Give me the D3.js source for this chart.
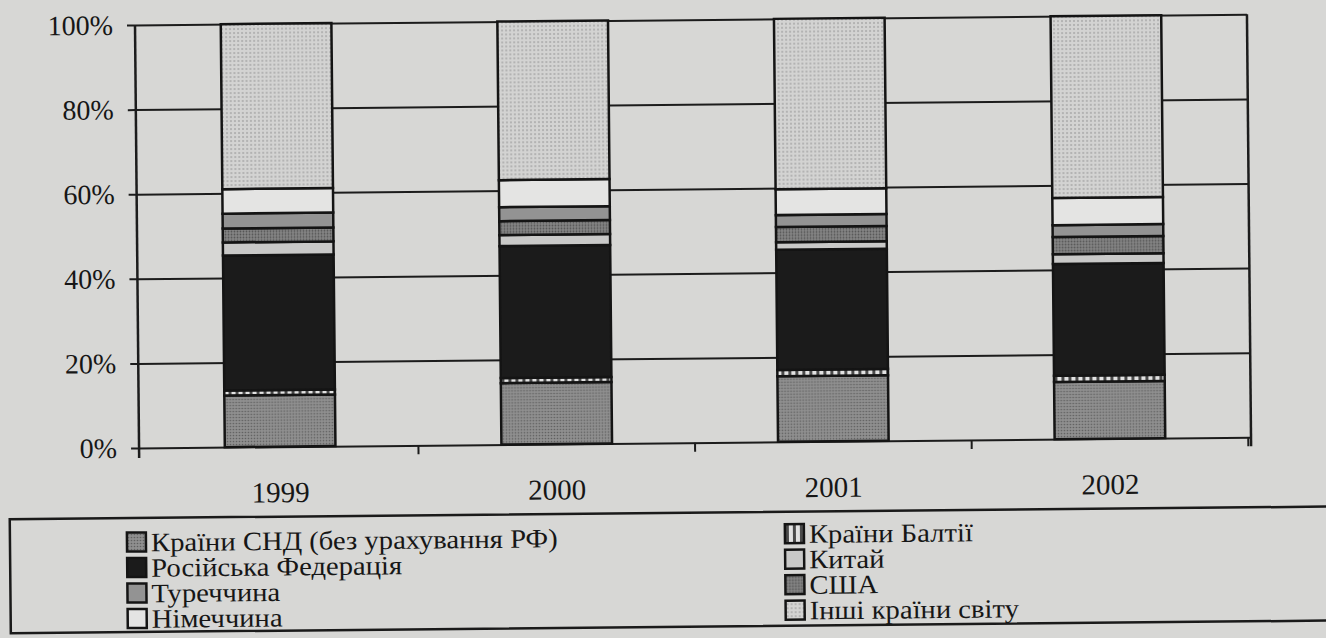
<!DOCTYPE html>
<html>
<head>
<meta charset="utf-8">
<script src="https://cdn.jsdelivr.net/npm/d3@7"></script>
<style>
  body { margin: 0; background: #d7d7d5; }
  svg { display: block; }
  text { font-family: "Liberation Serif", "Times New Roman", serif; fill: #161616; }
</style>
</head>
<body>
<svg id="chart" width="1326" height="638"></svg>
<script>
// years on the x axis
const years = ["1999", "2000", "2001", "2002"];
// shares in %, stacked bottom -> top
const cis     = [12.2, 14.5, 15.5, 13.5];
const baltic  = [1.2, 1.2, 1.5, 1.5];
const russia  = [31.9, 31.2, 28.4, 26.4];
const china   = [3.1, 2.6, 1.8, 2.3];
const usa     = [3.3, 3.3, 3.6, 4.1];
const turkey  = [3.5, 3.3, 2.8, 2.8];
const germany = [5.8, 6.4, 6.1, 6.4];
const others  = [39.0, 37.5, 40.3, 43.0];
const yTicks = [0, 20, 40, 60, 80, 100];

const stackKeys = ["cis", "baltic", "russia", "china", "usa", "turkey", "germany", "others"];
const seriesVals = { cis, baltic, russia, china, usa, turkey, germany, others };
const names = {
    cis: "Країни СНД (без урахування РФ)",
    russia: "Російська Федерація",
    turkey: "Туреччина",
    germany: "Німеччина",
    baltic: "Країни Балтії",
    china: "Китай",
    usa: "США",
    others: "Інші країни світу"
};
const legendLeft = ["cis", "russia", "turkey", "germany"];
const legendRight = ["baltic", "china", "usa", "others"];

var svg = d3.select("#chart");
var plotL = 135, plotR = 1247, plotT = 25, plotB = 448;
var serif = '"Liberation Serif", "Times New Roman", serif';

// scan is slightly tilted
var g = svg.append("g").attr("transform", "rotate(-0.55," + plotL + "," + plotT + ")");

// fill patterns
var defs = svg.append("defs");
function dots(id, bg, dot, step, r) {
    var p = defs.append("pattern").attr("id", id).attr("patternUnits", "userSpaceOnUse")
        .attr("width", step).attr("height", step);
    p.append("rect").attr("width", step).attr("height", step).attr("fill", bg);
    p.append("circle").attr("cx", step / 2).attr("cy", step / 2).attr("r", r).attr("fill", dot);
}
dots("pCis", "#8f8f8f", "#5e5e5e", 3, 0.8);
dots("pUsa", "#858585", "#555", 3, 0.9);
dots("pOthers", "#d3d3d2", "#7c7c7c", 4, 0.7);
var pb = defs.append("pattern").attr("id", "pBaltic").attr("patternUnits", "userSpaceOnUse")
    .attr("width", 7).attr("height", 7);
pb.append("rect").attr("width", 7).attr("height", 7).attr("fill", "#e2e2e2");
pb.append("rect").attr("x", 1).attr("width", 3).attr("height", 7).attr("fill", "#4a4a4a");

var fills = {
    cis: "url(#pCis)", baltic: "url(#pBaltic)", russia: "#1b1b1b", china: "#c9c9c8",
    usa: "url(#pUsa)", turkey: "#939393", germany: "#e4e4e3", others: "url(#pOthers)"
};

var x = d3.scaleBand().domain(years).range([plotL, plotR]).paddingInner(0.6).paddingOuter(0.31);
var y = d3.scaleLinear().domain([0, 100]).range([plotB, plotT]);

// gridlines
g.append("g")
    .attr("transform", "translate(" + plotL + ",0)")
    .call(d3.axisLeft(y).tickValues(yTicks).tickSize(-(plotR - plotL)).tickFormat(""))
    .call(s => s.select(".domain").remove())
    .selectAll("line").attr("stroke", "#1c1c1c").attr("stroke-width", 2);

// right border
g.append("line").attr("x1", plotR).attr("x2", plotR).attr("y1", plotT).attr("y2", plotB + 9)
    .attr("stroke", "#1c1c1c").attr("stroke-width", 2.5);

// stacked bars
var rows = years.map(function(yr, i) {
    var r = { year: yr };
    stackKeys.forEach(function(k) { r[k] = seriesVals[k][i]; });
    return r;
});
var stacked = d3.stack().keys(stackKeys)(rows);

g.append("g").selectAll("g")
    .data(stacked)
    .enter()
    .append("g")
    .attr("fill", function(d) { return fills[d.key]; })
    .selectAll("rect")
    .data(function(d) { return d; })
    .enter()
    .append("rect")
    .attr("x", function(d) { return x(d.data.year); })
    .attr("width", x.bandwidth())
    .attr("y", function(d) { return y(d[1]); })
    .attr("height", function(d) { return y(d[0]) - y(d[1]); })
    .attr("stroke", "#141414")
    .attr("stroke-width", 2.5);

// y axis
var yAxis = g.append("g")
    .attr("transform", "translate(" + plotL + ",0)")
    .call(d3.axisLeft(y).tickValues(yTicks).tickSize(8).tickPadding(14).tickFormat(function(d) { return d + "%"; }));
yAxis.select(".domain").attr("stroke", "#1c1c1c").attr("stroke-width", 2.5)
    .attr("d", "M0," + plotT + "V" + (plotB + 10));
yAxis.selectAll("line").attr("stroke", "#1c1c1c").attr("stroke-width", 2);
yAxis.selectAll("text").style("font-size", "28px").style("font-family", serif).attr("fill", "#161616");

// x axis: labels centred, ticks between categories
var xAxis = g.append("g")
    .attr("transform", "translate(0," + plotB + ")")
    .call(d3.axisBottom(x).tickSize(0).tickPadding(35));
xAxis.select(".domain").remove();
xAxis.selectAll("text").style("font-size", "29px").style("font-family", serif).attr("fill", "#161616");

g.append("g").selectAll("line")
    .data(years)
    .enter()
    .append("line")
    .attr("x1", function(d) { return x(d) + x.bandwidth() + x.step() * x.paddingInner() / 2; })
    .attr("x2", function(d) { return x(d) + x.bandwidth() + x.step() * x.paddingInner() / 2; })
    .attr("y1", plotB)
    .attr("y2", plotB + 9)
    .attr("stroke", "#1c1c1c")
    .attr("stroke-width", 2);

// legend frame
g.append("rect")
    .attr("x", 5).attr("y", 518)
    .attr("width", 1400).attr("height", 114)
    .attr("fill", "none").attr("stroke", "#1a1a1a").attr("stroke-width", 2.5);

function legendCol(keys, x0, y0) {
    var lg = g.append("g").attr("transform", "translate(" + x0 + "," + y0 + ")");
    var item = lg.selectAll("g").data(keys).enter().append("g")
        .attr("transform", function(d, i) { return "translate(0," + (i * 25.5) + ")"; });
    item.append("rect")
        .attr("x", 0).attr("y", -9.5)
        .attr("width", 19).attr("height", 19)
        .attr("fill", function(d) { return fills[d]; })
        .attr("stroke", "#141414").attr("stroke-width", 2.5);
    item.append("text")
        .attr("transform", "translate(24,0) scale(1.08,1)")
        .attr("dy", "0.35em")
        .style("font-size", "26.5px")
        .style("font-family", serif)
        .text(function(d) { return names[d]; });
}
legendCol(legendLeft, 122, 542);
legendCol(legendRight, 780, 540);
</script>
</body>
</html>
